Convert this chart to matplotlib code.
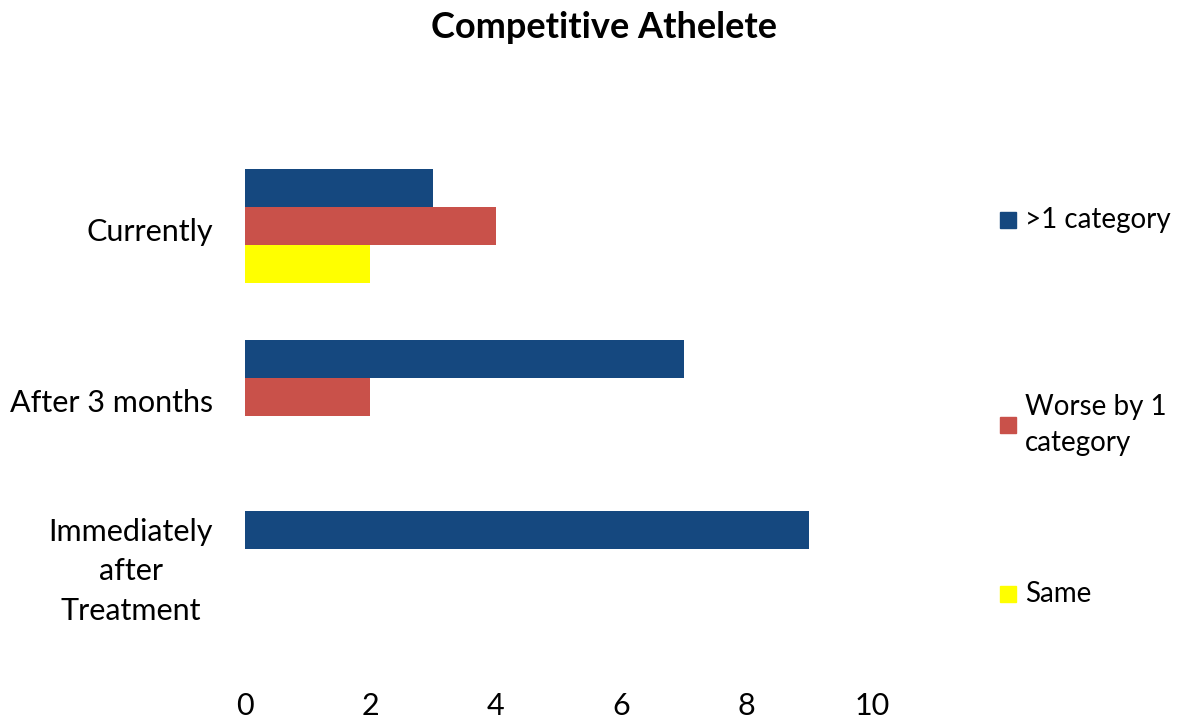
import matplotlib.pyplot as plt
import numpy as np
from matplotlib.patches import Rectangle

plt.rcParams['font.family'] = ['Lato', 'DejaVu Sans']

# data
categories = ['Immediately\nafter\nTreatment', 'After 3 months', 'Currently']
series_names = ['>1 category', 'Worse by 1\ncategory', 'Same']
more_than_1 = [9, 7, 3]
worse_by_1 = [0, 2, 4]
same = [0, 0, 2]
x_ticks = [0, 2, 4, 6, 8, 10]

colors = ['#15487F', '#C9514A', '#FFFF00']

fig = plt.figure(figsize=(11.78, 7.21), dpi=100)
ax = fig.add_axes([0.208, 0.0936, 0.532, 0.7115])

y = np.arange(len(categories))
h = 0.222
ax.barh(y + h, more_than_1, height=h, color=colors[0])
ax.barh(y, worse_by_1, height=h, color=colors[1])
ax.barh(y - h, same, height=h, color=colors[2])

ax.set_xlim(0, 10)
ax.set_ylim(-0.5, 2.5)
ax.set_xticks(x_ticks)
# label positions nudged a little like the original
ax.set_yticks(y + np.array([0.03, -0.02, -0.02]))
ax.set_yticklabels(categories, fontsize=22, ha='right')
for lbl in ax.get_yticklabels():
    lbl.set_multialignment('center')
    lbl.set_linespacing(1.5)
ax.tick_params(axis='y', length=0, pad=23)
ax.tick_params(axis='x', length=0, pad=28, labelsize=22)
for s in ax.spines.values():
    s.set_visible(False)

fig.text(0.513, 0.962, 'Competitive Athelete', ha='center', va='center',
         fontsize=26, fontweight='bold')

# legend on the right
leg_y = [220, 425, 594]
for c, name, py in zip(colors, series_names, leg_y):
    fy = 1 - py / 721
    fig.patches.append(Rectangle((1000 / 1178, fy - 8 / 721), 16 / 1178, 16 / 721,
                                 transform=fig.transFigure, color=c))
    fig.text(1025 / 1178, fy, name, ha='left', va='center', fontsize=20,
             linespacing=1.45)

plt.savefig('out.png')
